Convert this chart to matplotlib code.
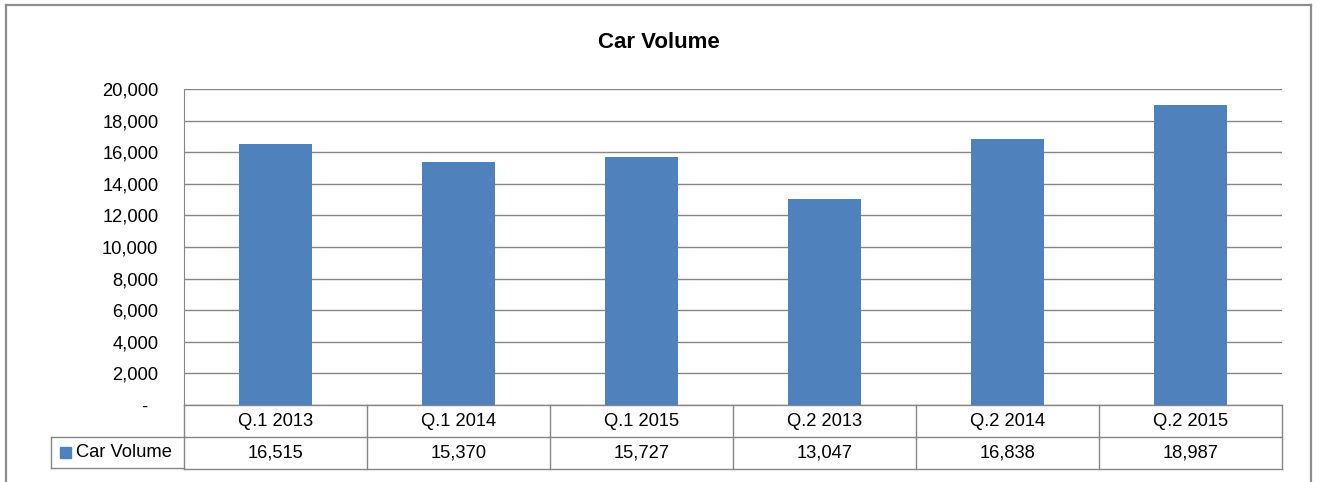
import matplotlib
matplotlib.use('Agg')
import matplotlib.pyplot as plt
import matplotlib.transforms as mtransforms
from matplotlib.lines import Line2D
from matplotlib.patches import Rectangle

# - - - - data - - - -
categories = ['Q.1 2013', 'Q.1 2014', 'Q.1 2015', 'Q.2 2013', 'Q.2 2014', 'Q.2 2015']
car_volume = [16515, 15370, 15727, 13047, 16838, 18987]
series_name = 'Car Volume'
yticks = [0, 2000, 4000, 6000, 8000, 10000, 12000, 14000, 16000, 18000, 20000]
ytick_labels = ['-\u2007', '2,000', '4,000', '6,000', '8,000', '10,000',
                '12,000', '14,000', '16,000', '18,000', '20,000']

# - - - - style - - - -
W, H = 1318, 482
bar_color = '#4F81BD'
line_color = '#868686'
font = 'Liberation Sans'
fs = 13.2


def px(x, y):
    # pixel (from top-left) -> figure fraction
    return x / W, 1 - y / H


def main():
    plt.rcParams['font.family'] = [font, 'DejaVu Sans']
    fig = plt.figure(figsize=(W / 100, H / 100), dpi=100)

    left, right, top, bottom = 184, 1282, 89, 405
    ax = fig.add_axes([left / W, 1 - bottom / H, (right - left) / W, (bottom - top) / H])

    x = list(range(len(categories)))
    ax.bar(x, car_volume, width=0.4, color=bar_color, zorder=3)
    ax.set_xlim(-0.5, len(categories) - 0.5)
    ax.set_ylim(0, 20000)

    ax.set_yticks(yticks)
    ax.set_yticklabels(ytick_labels, fontsize=fs)
    ax.tick_params(axis='y', length=0, pad=18.5)
    ax.set_xticks([])
    ax.grid(axis='y', color=line_color, linewidth=1, zorder=0)
    for s in ['top', 'right', 'bottom']:
        ax.spines[s].set_visible(False)
    ax.spines['left'].set_color(line_color)

    # data table under the plot
    trans = mtransforms.blended_transform_factory(ax.transData, ax.transAxes)
    row_h = 32 / (bottom - top)
    y1 = -row_h
    y2 = -2 * row_h
    kw = dict(color=line_color, linewidth=1, transform=trans, clip_on=False)
    xl, xr = -0.5, len(categories) - 0.5
    ax.plot([xl, xr], [0, 0], **kw)
    ax.plot([xl, xr], [y1, y1], **kw)
    ax.plot([xl, xr], [y2, y2], **kw)
    for b in range(len(categories) + 1):
        ax.plot([xl + b, xl + b], [0, y2], **kw)

    # header cell of the value row
    hx0, hx1 = 51 / W, left / W
    ty1 = 1 - 437 / H
    ty2 = 1 - 468 / H
    fig.add_artist(Line2D([hx0, hx1], [ty1, ty1], color=line_color, linewidth=1))
    fig.add_artist(Line2D([hx0, hx1], [ty2, ty2], color=line_color, linewidth=1))
    fig.add_artist(Line2D([hx0, hx0], [ty1, ty2], color=line_color, linewidth=1))
    fig.add_artist(Rectangle(px(60, 458), 11 / W, 11 / H, color=bar_color))
    fig.text(76 / W, (ty1 + ty2) / 2, series_name, fontsize=fs, ha='left', va='center')

    for i, cat in enumerate(categories):
        ax.text(i, y1 / 2, cat, fontsize=fs, ha='center', va='center', transform=trans)
        ax.text(i, (y1 + y2) / 2, '{:,}'.format(car_volume[i]), fontsize=fs,
                ha='center', va='center', transform=trans)

    # title
    fig.text(0.5, 1 - 42 / H, 'Car Volume', fontsize=16, fontweight='bold',
             ha='center', va='center')

    # chart border (bottom edge cut off)
    bc = '#8c8c8c'
    fig.add_artist(Line2D([6 / W, 6 / W], [0, 1 - 5 / H], color=bc, linewidth=1.6))
    fig.add_artist(Line2D([6 / W, 1311 / W], [1 - 5 / H, 1 - 5 / H], color=bc, linewidth=1.6))
    fig.add_artist(Line2D([1311 / W, 1311 / W], [0, 1 - 5 / H], color=bc, linewidth=1.6))

    fig.savefig('out.png', dpi=100)


if __name__ == '__main__':
    main()
